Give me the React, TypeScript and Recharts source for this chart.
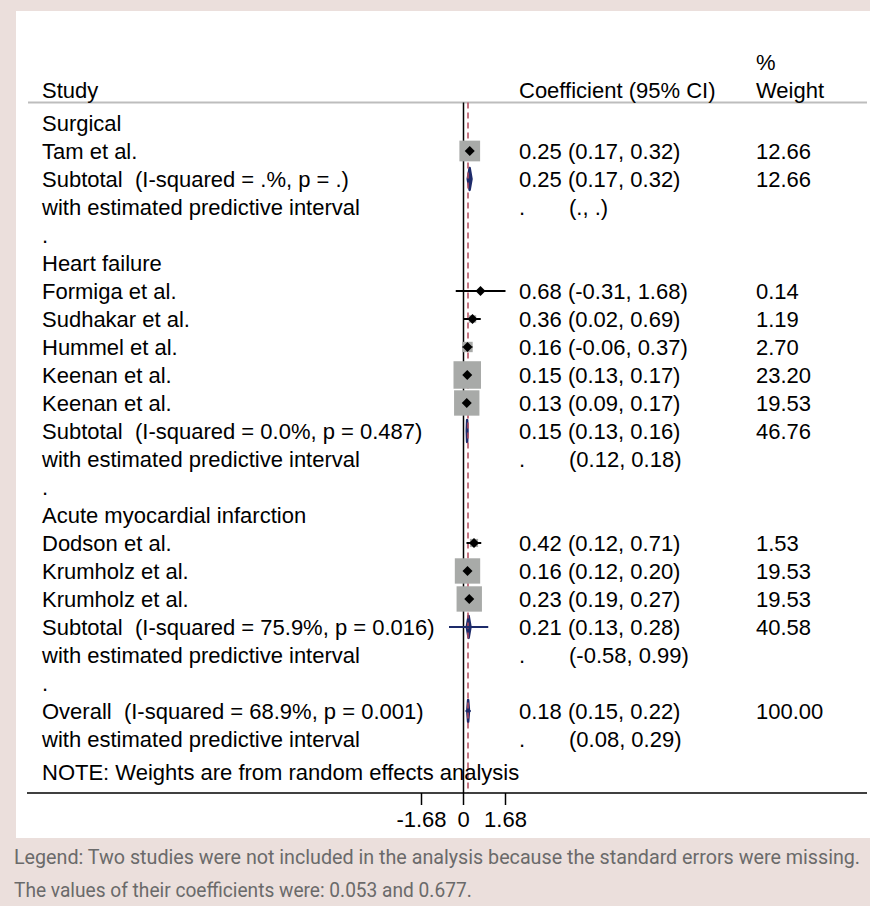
import React, { useLayoutEffect, useRef, useState } from 'react';
import { ComposedChart, Scatter, XAxis, YAxis, ReferenceLine, ReferenceArea, ErrorBar } from 'recharts';

const FONT = '"Liberation Sans", Arial, Helvetica, sans-serif';

// ---- data ----
const rowLabels = [
  'Surgical',
  'Tam et al.',
  'Subtotal  (I-squared = .%, p = .)',
  'with estimated predictive interval',
  '.',
  'Heart failure',
  'Formiga et al.',
  'Sudhakar et al.',
  'Hummel et al.',
  'Keenan et al.',
  'Keenan et al.',
  'Subtotal  (I-squared = 0.0%, p = 0.487)',
  'with estimated predictive interval',
  '.',
  'Acute myocardial infarction',
  'Dodson et al.',
  'Krumholz et al.',
  'Krumholz et al.',
  'Subtotal  (I-squared = 75.9%, p = 0.016)',
  'with estimated predictive interval',
  '.',
  'Overall  (I-squared = 68.9%, p = 0.001)',
  'with estimated predictive interval',
];

const studyRows = [1, 6, 7, 8, 9, 10, 15, 16, 17];
const studyEst = [0.25, 0.68, 0.36, 0.16, 0.15, 0.13, 0.42, 0.16, 0.23];
const studyLo = [0.17, -0.31, 0.02, -0.06, 0.13, 0.09, 0.12, 0.12, 0.19];
const studyHi = [0.32, 1.68, 0.69, 0.37, 0.17, 0.17, 0.71, 0.2, 0.27];
const studyWeight = [12.66, 0.14, 1.19, 2.7, 23.2, 19.53, 1.53, 19.53, 19.53];

const pooledRows = [2, 11, 18, 21];
const pooledEst = [0.25, 0.15, 0.21, 0.18];
const pooledLo = [0.17, 0.13, 0.13, 0.15];
const pooledHi = [0.32, 0.16, 0.28, 0.22];
const pooledWeight = [12.66, 46.76, 40.58, 100.0];
const predRows = [3, 12, 19, 22];
const predLo: (number | null)[] = [null, 0.12, -0.58, 0.08];
const predHi: (number | null)[] = [null, 0.18, 0.99, 0.29];

const overallEffect = 0.18;
const axisTicks = [-1.68, 0, 1.68];
const noteText = 'NOTE: Weights are from random effects analysis';
const legendLines = [
  'Legend: Two studies were not included in the analysis because the standard errors were missing.',
  'The values of their coefficients were: 0.053 and 0.677.',
];

// ---- layout (data-space positions of columns / rows) ----
const X_MIN = -17.46;
const X_MAX = 16.14;
const Y_MIN = -3;
const Y_MAX = 23.93;
const COL_LABEL = -16.86;
const COL_COEF = 2.22;
const COL_COEF2 = 4.22;
const COL_WEIGHT = 11.7;
const HEADER_ROW = -1.18;
const HEADER_ROW2 = -2.18;
const HEADER_LINE_Y = -0.73;
const HEADER_LINE_X1 = -17.42;
const NOTE_ROW = 23.18;

const f2 = (v: number) => v.toFixed(2);

type TextPt = { x: number; y: number; t: string };
const texts: TextPt[] = [];
rowLabels.forEach((t, i) => texts.push({ x: COL_LABEL, y: i, t }));
texts.push({ x: COL_LABEL, y: HEADER_ROW, t: 'Study' });
texts.push({ x: COL_COEF, y: HEADER_ROW, t: 'Coefficient (95% CI)' });
texts.push({ x: COL_WEIGHT, y: HEADER_ROW2, t: '%' });
texts.push({ x: COL_WEIGHT, y: HEADER_ROW, t: 'Weight' });
texts.push({ x: COL_LABEL, y: NOTE_ROW, t: noteText });
studyRows.forEach((r, i) => {
  texts.push({ x: COL_COEF, y: r, t: `${f2(studyEst[i])} (${f2(studyLo[i])}, ${f2(studyHi[i])})` });
  texts.push({ x: COL_WEIGHT, y: r, t: f2(studyWeight[i]) });
});
pooledRows.forEach((r, i) => {
  texts.push({ x: COL_COEF, y: r, t: `${f2(pooledEst[i])} (${f2(pooledLo[i])}, ${f2(pooledHi[i])})` });
  texts.push({ x: COL_WEIGHT, y: r, t: f2(pooledWeight[i]) });
});
predRows.forEach((r, i) => {
  texts.push({ x: COL_COEF, y: r, t: '.' });
  const lo = predLo[i];
  const hi = predHi[i];
  texts.push({ x: COL_COEF2, y: r, t: lo == null || hi == null ? '(., .)' : `(${f2(lo)}, ${f2(hi)})` });
});

const studies = studyRows.map((r, i) => ({
  x: studyEst[i],
  y: r,
  w: studyWeight[i],
  err: [studyEst[i] - studyLo[i], studyHi[i] - studyEst[i]],
}));

const NAVY = '#1d2b6a';

const TextShape = (props: any) => {
  const { cx, cy, payload } = props;
  return (
    <text x={cx} y={cy + 8} fontFamily={FONT} fontSize={22} fill="#000" style={{ whiteSpace: 'pre' }}>
      {payload.t}
    </text>
  );
};

const BoxShape = (props: any) => {
  const { cx, cy, payload } = props;
  const s = 5.4 * Math.sqrt(payload.w) + 1.5;
  return <rect x={cx - s / 2} y={cy - s / 2} width={s} height={s} fill="#a8aaa8" />;
};

const PointShape = (props: any) => {
  const { cx, cy } = props;
  const h = 5;
  return <polygon points={`${cx - h},${cy} ${cx},${cy - h} ${cx + h},${cy} ${cx},${cy + h}`} fill="#000" />;
};

const DiamondShape = (props: any) => {
  const { x, y, width, height } = props;
  const mx = x + width / 2;
  const my = y + height / 2;
  return (
    <polygon
      points={`${x},${my} ${mx},${y} ${x + width},${my} ${mx},${y + height}`}
      fill={NAVY}
      stroke={NAVY}
      strokeWidth={2.5}
      strokeLinejoin="round"
    />
  );
};

// condensed caption line: measured and squeezed horizontally to a target width
const CondensedLine = ({ text, top, width }: { text: string; top: number; width: number }) => {
  const ref = useRef<HTMLSpanElement>(null);
  const [scale, setScale] = useState(0.88);
  useLayoutEffect(() => {
    if (ref.current) {
      const w = ref.current.offsetWidth;
      if (w > 0) setScale(Math.min(1, width / w));
    }
  }, [text, width]);
  return (
    <span
      ref={ref}
      style={{
        position: 'absolute',
        left: 14,
        top,
        whiteSpace: 'nowrap',
        fontFamily: 'Roboto, sans-serif',
        fontSize: 20,
        lineHeight: '24px',
        color: '#6a6a6a',
        transform: `scaleX(${scale})`,
        transformOrigin: 'left top',
      }}
    >
      {text}
    </span>
  );
};

export default function App() {
  return (
    <div style={{ position: 'absolute', left: 0, top: 0, width: 870, height: 906, background: '#ebdfdc', overflow: 'hidden' }}>
      <div style={{ position: 'absolute', left: 16, top: 11, width: 854, height: 827, background: '#fff' }} />
      <div style={{ position: 'absolute', left: 0, top: 0 }}>
        <ComposedChart width={870} height={850} margin={{ top: 39, right: 3, bottom: 12, left: 27 }}>
          <XAxis
            type="number"
            dataKey="x"
            domain={[X_MIN, X_MAX]}
            allowDataOverflow
            ticks={axisTicks}
            interval={0}
            tickFormatter={(v: number) => (v === 0 ? '0' : v.toFixed(2))}
            height={45}
            tickSize={12}
            tickMargin={6}
            axisLine={{ stroke: '#000', strokeWidth: 1.5 }}
            tickLine={{ stroke: '#000', strokeWidth: 1.5 }}
            tick={{ fill: '#000', fontSize: 22, fontFamily: FONT }}
          />
          <YAxis type="number" dataKey="y" domain={[Y_MIN, Y_MAX]} reversed hide width={0} allowDataOverflow />
          <ReferenceLine
            segment={[{ x: HEADER_LINE_X1, y: HEADER_LINE_Y }, { x: X_MAX, y: HEADER_LINE_Y }]}
            stroke="#bdbdbd"
            strokeWidth={2}
            ifOverflow="visible"
          />
          <ReferenceLine
            segment={[{ x: 0, y: HEADER_LINE_Y }, { x: 0, y: Y_MAX }]}
            stroke="#000"
            strokeWidth={1.5}
            ifOverflow="visible"
          />
          <ReferenceLine
            segment={[{ x: overallEffect, y: HEADER_LINE_Y }, { x: overallEffect, y: Y_MAX }]}
            stroke="#b5495b"
            strokeWidth={1.5}
            strokeDasharray="6 4"
            ifOverflow="visible"
          />
          {pooledRows.map((r, i) =>
            predLo[i] == null ? null : (
              <ReferenceLine
                key={`pred-${i}`}
                segment={[{ x: predLo[i] as number, y: r }, { x: predHi[i] as number, y: r }]}
                stroke={NAVY}
                strokeWidth={2}
                ifOverflow="visible"
              />
            )
          )}
          {pooledRows.map((r, i) => (
            <ReferenceArea
              key={`dia-${i}`}
              x1={pooledLo[i]}
              x2={pooledHi[i]}
              y1={r - 0.39}
              y2={r + 0.39}
              ifOverflow="visible"
              shape={DiamondShape}
            />
          ))}
          <Scatter data={studies} shape={BoxShape} isAnimationActive={false} />
          <Scatter data={studies} shape={PointShape} isAnimationActive={false}>
            <ErrorBar dataKey="err" direction="x" width={0} stroke="#000" strokeWidth={2} isAnimationActive={false} />
          </Scatter>
          <Scatter data={texts} shape={TextShape} isAnimationActive={false} />
        </ComposedChart>
      </div>
      <CondensedLine text={legendLines[0]} top={845} width={846} />
      <CondensedLine text={legendLines[1]} top={878} width={458} />
    </div>
  );
}
